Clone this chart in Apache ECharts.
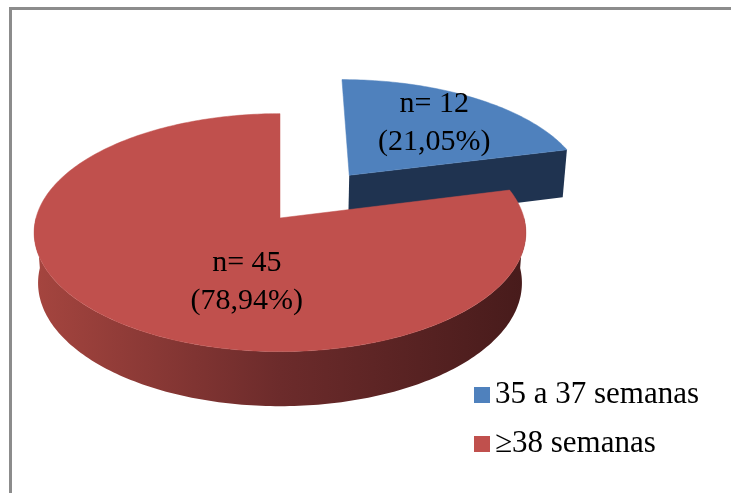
<!DOCTYPE html>
<html>
<head>
<meta charset="utf-8">
<script src="https://cdn.jsdelivr.net/npm/echarts@6/dist/echarts.min.js"></script>
<style>
  html, body { margin: 0; padding: 0; background: #fff; }
  #chart { width: 731px; height: 493px; }
</style>
</head>
<body>
<div id="chart"></div>
<script>
// datos del gráfico
const categorias = ['35 a 37 semanas', '≥38 semanas'];
const valores = [12, 45];
const porcentajes = ['21,05%', '78,94%'];

// estilo
const colores = ['#4f81bd', '#c0504d'];
const ladoRojo = new echarts.graphic.LinearGradient(0, 0, 1, 0, [
  { offset: 0, color: '#a5453f' },
  { offset: 0.5, color: '#6c2b2b' },
  { offset: 1, color: '#471b1b' }
]);
const lados = ['#1f3350', ladoRojo];
const explosion = [118, 0];
// posición de etiquetas: fracción del radio y desvío angular desde el centro del sector
const etiquetaK = [0.66, 0.53];
const etiquetaGiro = [0, -24];

// proyección 3D en perspectiva
const DEG = Math.PI / 180;
const ALFA = 28.7 * DEG, SA = Math.sin(ALFA), CA = Math.cos(ALFA);
const R = 244, H = 58, F = 1742, OX = 280, OY = 218;

function proyectar(X, Y, Z) {
  const yv = Z * SA - Y * CA;
  const zv = Z * CA + Y * SA;
  const s = F / (F - zv);
  return [OX + X * s, OY + yv * s];
}
function dir(t) {
  return [Math.sin(t * DEG), -Math.cos(t * DEG)];
}

const total = valores.reduce((a, b) => a + b, 0);

function renderItem(params, api) {
  const i = params.dataIndex;
  const v = api.value(0);
  let t0 = 0;
  for (let k = 0; k < i; k++) t0 += valores[k] / total * 360;
  const t1 = t0 + v / total * 360;
  const mid = (t0 + t1) / 2;
  const [mx, mz] = dir(mid);
  const cx = mx * explosion[i], cz = mz * explosion[i];

  const borde = (t, Y) => {
    const [dx, dz] = dir(t);
    return proyectar(cx + dx * R, Y, cz + dz * R);
  };
  const arco = (a, b, Y) => {
    const pts = [];
    const n = Math.max(2, Math.ceil(Math.abs(b - a)));
    for (let j = 0; j <= n; j++) pts.push(borde(a + (b - a) * j / n, Y));
    return pts;
  };

  const children = [];
  // caras radiales visibles
  [[t0, t0 - 90], [t1, t1 + 90]].forEach(([te, tn]) => {
    if (-Math.cos(tn * DEG) > 0.01) {
      children.push({
        type: 'polygon',
        shape: { points: [proyectar(cx, 0, cz), borde(te, 0), borde(te, -H), proyectar(cx, -H, cz)] },
        style: { fill: lados[i] }
      });
    }
  });
  // lateral curvo (solo la parte frontal)
  const a = Math.max(t0, 90), b = Math.min(t1, 270);
  if (b > a) {
    children.push({
      type: 'polygon',
      shape: { points: arco(a, b, 0).concat(arco(b, a, -H)) },
      style: { fill: lados[i] }
    });
  }
  // cara superior
  children.push({
    type: 'polygon',
    shape: { points: [proyectar(cx, 0, cz)].concat(arco(t0, t1, 0)) },
    style: { fill: colores[i], stroke: colores[i], lineWidth: 0.5 }
  });
  // etiqueta
  const [lx, lz] = dir(mid + etiquetaGiro[i]);
  const p = proyectar(cx + lx * R * etiquetaK[i], 0, cz + lz * R * etiquetaK[i]);
  children.push({
    type: 'text',
    style: {
      text: 'n= ' + v + '\n(' + porcentajes[i] + ')',
      x: p[0], y: p[1],
      align: 'center', verticalAlign: 'middle',
      fontFamily: 'Liberation Serif', fontSize: 30, lineHeight: 38,
      fill: '#000'
    }
  });
  return { type: 'group', children };
}

const chart = echarts.init(document.getElementById('chart'));
chart.setOption({
  animation: false,
  graphic: [{
    type: 'rect',
    shape: { x: 10.5, y: 8.5, width: 800, height: 600 },
    style: { fill: 'none', stroke: '#8c8c8c', lineWidth: 3 },
    z: 10
  }],
  legend: {
    orient: 'vertical',
    left: 469, top: 373,
    itemWidth: 16, itemHeight: 16, itemGap: 15,
    icon: 'rect',
    selectedMode: false,
    data: categorias,
    textStyle: { fontFamily: 'Liberation Serif', fontSize: 31, color: '#000', lineHeight: 34 }
  },
  series: [
    {
      type: 'custom',
      name: 'sectores',
      coordinateSystem: 'none',
      silent: true,
      renderItem: renderItem,
      data: valores.map((v, i) => ({ value: v, name: categorias[i] }))
    },
    {
      // serie auxiliar solo para la leyenda
      type: 'pie',
      radius: 0,
      center: [-50, -50],
      silent: true,
      label: { show: false },
      labelLine: { show: false },
      data: valores.map((v, i) => ({ value: v, name: categorias[i], itemStyle: { color: colores[i] } }))
    }
  ]
});
</script>
</body>
</html>
